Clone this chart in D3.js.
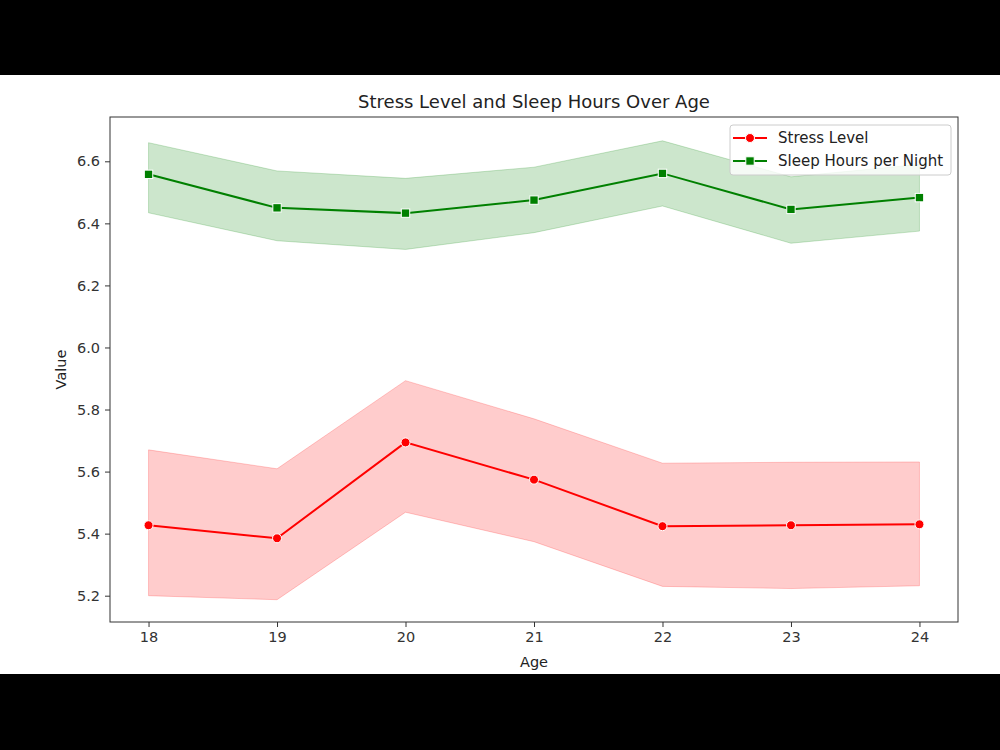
<!DOCTYPE html>
<html>
<head>
<meta charset="utf-8">
<script src="https://cdn.jsdelivr.net/npm/d3@7"></script>
<style>
  body { margin: 0; background: #000; }
  svg { display: block; font-family: 'DejaVu Sans', sans-serif; }
</style>
</head>
<body>
<div class="visualization"></div>
<script>
// data
const ages = [18, 19, 20, 21, 22, 23, 24]
const stressMean = [5.427, 5.385, 5.694, 5.574, 5.424, 5.427, 5.430]
const stressLow = [5.200, 5.187, 5.469, 5.374, 5.230, 5.223, 5.232]
const stressHigh = [5.670, 5.609, 5.893, 5.770, 5.627, 5.630, 5.631]
const sleepMean = [6.558, 6.450, 6.433, 6.475, 6.561, 6.445, 6.483]
const sleepLow = [6.434, 6.344, 6.316, 6.370, 6.456, 6.336, 6.375]
const sleepHigh = [6.660, 6.569, 6.545, 6.581, 6.666, 6.550, 6.590]
const yTicks = [5.2, 5.4, 5.6, 5.8, 6.0, 6.2, 6.4, 6.6]

const WIDTH = 1000
const HEIGHT = 750

var margin = {top: 117, right: 42, bottom: 128, left: 110}
var plotW = WIDTH - margin.left - margin.right
var plotH = HEIGHT - margin.top - margin.bottom

var x = d3.scaleLinear().domain([17.7, 24.3]).range([0, plotW])
var y = d3.scaleLinear().domain([5.1152, 6.7428]).range([plotH, 0])

const svg = d3.select('.visualization')
  .append('svg')
  .attr('width', WIDTH)
  .attr('height', HEIGHT)

// white figure area inside the black letterbox
svg.append('rect')
  .attr('x', 0).attr('y', 75)
  .attr('width', WIDTH).attr('height', 599)
  .attr('fill', '#fff')

const g = svg.append('g')
  .attr('transform', 'translate(' + margin.left + ',' + margin.top + ')')

function series (mean, low, high) {
  return ages.map((a, i) => ({age: a, mean: mean[i], low: low[i], high: high[i]}))
}

var stress = series(stressMean, stressLow, stressHigh)
var sleep = series(sleepMean, sleepLow, sleepHigh)

var band = d3.area()
  .x(d => x(d.age))
  .y0(d => y(d.low))
  .y1(d => y(d.high))

var line = d3.line()
  .x(d => x(d.age))
  .y(d => y(d.mean))

g.append('path').datum(stress)
  .attr('d', band)
  .attr('fill', 'red').attr('fill-opacity', 0.2)
  .attr('stroke', 'red').attr('stroke-opacity', 0.2)

g.append('path').datum(sleep)
  .attr('d', band)
  .attr('fill', 'green').attr('fill-opacity', 0.2)
  .attr('stroke', 'green').attr('stroke-opacity', 0.2)

g.append('path').datum(stress)
  .attr('d', line)
  .attr('fill', 'none').attr('stroke', 'red').attr('stroke-width', 2)

g.append('path').datum(sleep)
  .attr('d', line)
  .attr('fill', 'none').attr('stroke', 'green').attr('stroke-width', 2)

g.selectAll('.stress-dot')
  .data(stress)
  .enter()
  .append('circle')
  .attr('class', 'stress-dot')
  .attr('cx', d => x(d.age))
  .attr('cy', d => y(d.mean))
  .attr('r', 4.5)
  .attr('fill', 'red')
  .attr('stroke', '#fff').attr('stroke-width', 1)

g.selectAll('.sleep-dot')
  .data(sleep)
  .enter()
  .append('rect')
  .attr('class', 'sleep-dot')
  .attr('x', d => x(d.age) - 4.2)
  .attr('y', d => y(d.mean) - 4.2)
  .attr('width', 8.4)
  .attr('height', 8.4)
  .attr('fill', 'green')
  .attr('stroke', '#fff').attr('stroke-width', 1)

// axes
var xAxis = g.append('g')
  .attr('transform', 'translate(0,' + plotH + ')')
  .call(d3.axisBottom(x).tickValues(ages).tickFormat(d3.format('d')).tickSize(5).tickPadding(5))

var yAxis = g.append('g')
  .call(d3.axisLeft(y).tickValues(yTicks).tickFormat(d3.format('.1f')).tickSize(5).tickPadding(5))

;[xAxis, yAxis].forEach(ax => {
  ax.select('.domain').remove()
  ax.selectAll('line').attr('stroke', '#333').attr('stroke-width', 1)
  ax.selectAll('text').attr('fill', '#333').style('font-size', '14.5px').style('font-family', 'DejaVu Sans')
})

// frame
g.append('rect')
  .attr('width', plotW).attr('height', plotH)
  .attr('fill', 'none').attr('stroke', '#333').attr('stroke-width', 1)

// labels
svg.append('text')
  .attr('x', margin.left + plotW / 2).attr('y', 108)
  .attr('text-anchor', 'middle')
  .attr('fill', '#222')
  .style('font-size', '18px')
  .text('Stress Level and Sleep Hours Over Age')

svg.append('text')
  .attr('x', margin.left + plotW / 2).attr('y', 667)
  .attr('text-anchor', 'middle')
  .attr('fill', '#222')
  .style('font-size', '14.5px')
  .text('Age')

svg.append('text')
  .attr('transform', 'translate(66,' + (margin.top + plotH / 2) + ') rotate(-90)')
  .attr('text-anchor', 'middle')
  .attr('fill', '#222')
  .style('font-size', '14.5px')
  .text('Value')

// legend
var legend = svg.append('g').attr('transform', 'translate(730,125)')
legend.append('rect')
  .attr('width', 221).attr('height', 50).attr('rx', 3)
  .attr('fill', '#fff').attr('fill-opacity', 0.8)
  .attr('stroke', '#ccc')

var legendItems = [
  {label: 'Stress Level', color: 'red', shape: 'circle'},
  {label: 'Sleep Hours per Night', color: 'green', shape: 'square'}
]

legendItems.forEach((item, i) => {
  var row = legend.append('g').attr('transform', 'translate(0,' + (13 + i * 23) + ')')
  row.append('line')
    .attr('x1', 3).attr('x2', 37)
    .attr('stroke', item.color).attr('stroke-width', 2)
  if (item.shape === 'circle') {
    row.append('circle').attr('cx', 20).attr('r', 4.5)
      .attr('fill', item.color).attr('stroke', '#fff').attr('stroke-width', 1)
  } else {
    row.append('rect').attr('x', 15.8).attr('y', -4.2).attr('width', 8.4).attr('height', 8.4)
      .attr('fill', item.color).attr('stroke', '#fff').attr('stroke-width', 1)
  }
  row.append('text')
    .attr('x', 48).attr('y', 5)
    .attr('fill', '#222')
    .style('font-size', '15px')
    .text(item.label)
})
</script>
</body>
</html>
